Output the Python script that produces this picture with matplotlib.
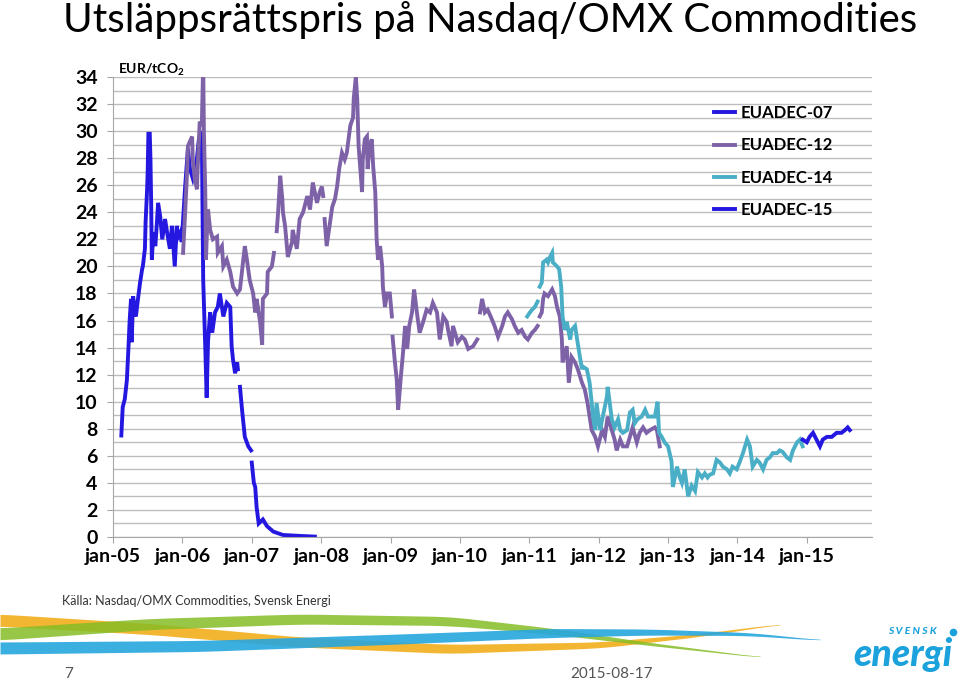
import numpy as np
import matplotlib.pyplot as plt
from matplotlib.lines import Line2D

# EUA futures on Nasdaq/OMX Commodities
# x values are decimal years, prices in EUR/tCO2, nan = gap in the series

euadec07_t = [2005.12, 2005.14, 2005.17, 2005.20, 2005.22, 2005.24, 2005.26, 2005.27, 2005.29,
              2005.32, 2005.33, 2005.36, 2005.39, 2005.42, 2005.43, 2005.46, 2005.47, 2005.49,
              2005.50, 2005.51, 2005.53, 2005.54, 2005.55, 2005.56, 2005.58, 2005.61, 2005.63,
              2005.65, 2005.68, 2005.71, 2005.75, 2005.78, 2005.82, 2005.85, 2005.89, 2005.92,
              2005.94, 2005.97, 2005.99, 2006.04, 2006.08, 2006.11, 2006.15, 2006.20, 2006.24,
              2006.28, 2006.30, 2006.33, 2006.35, 2006.37, 2006.40, 2006.43, 2006.47, 2006.51,
              2006.54, 2006.59, 2006.64, 2006.69, 2006.71, 2006.73, 2006.76, 2006.79, 2006.80,
              2006.81, 2006.83, 2006.86, 2006.90, 2006.95, 2006.99, 2006.995, 2007.00, 2007.03,
              2007.05, 2007.07, 2007.10, 2007.16, 2007.22, 2007.31, 2007.45, 2007.69, 2007.91]
euadec07_v = [7.5, 9.6, 10.2, 11.6, 13.7, 16.0, 17.6, 14.4, 17.8,
              16.5, 16.3, 17.6, 18.8, 19.8, 20.0, 21.3, 23.3, 25.5,
              27.0, 29.8, 29.8, 27.9, 24.7, 20.5, 22.5, 21.5, 23.0,
              24.7, 23.7, 22.0, 23.5, 22.5, 21.3, 23.0, 20.0, 23.0,
              22.2, 22.5, 21.8, 25.9, 28.7, 27.2, 26.5, 27.5, 29.5,
              30.0, 19.0, 14.0, 10.3, 14.5, 16.6, 15.1, 16.6, 17.0,
              18.0, 16.3, 17.3, 17.0, 14.1, 13.1, 12.1, 12.9, 12.4,
              np.nan, 11.1, 9.4, 7.4, 6.7, 6.4, np.nan, 5.5, 4.0,
              3.7, 2.2, 1.0, 1.3, 0.8, 0.4, 0.15, 0.08, 0.03]

euadec12_t = [2006.01, 2006.04, 2006.07, 2006.08, 2006.14, 2006.15, 2006.18, 2006.21, 2006.22,
              2006.25, 2006.28, 2006.30, 2006.31, 2006.33, 2006.34, 2006.35, 2006.37, 2006.40,
              2006.44, 2006.50, 2006.51, 2006.57, 2006.59, 2006.64, 2006.69, 2006.73, 2006.79,
              2006.83, 2006.90, 2006.93, 2006.97, 2007.02, 2007.05, 2007.07, 2007.12, 2007.15,
              2007.16, 2007.22, 2007.23, 2007.29, 2007.32, 2007.34, 2007.36, 2007.38, 2007.41,
              2007.44, 2007.45, 2007.48, 2007.52, 2007.58, 2007.59, 2007.65, 2007.69, 2007.74,
              2007.80, 2007.84, 2007.88, 2007.94, 2007.98, 2008.01, 2008.03, 2008.04, 2008.05,
              2008.08, 2008.13, 2008.16, 2008.20, 2008.23, 2008.26, 2008.30, 2008.34, 2008.37,
              2008.39, 2008.42, 2008.46, 2008.47, 2008.50, 2008.52, 2008.54, 2008.59, 2008.60,
              2008.63, 2008.66, 2008.67, 2008.70, 2008.73, 2008.75, 2008.78, 2008.80, 2008.82,
              2008.85, 2008.88, 2008.89, 2008.92, 2008.95, 2008.99, 2009.02, 2009.025, 2009.03,
              2009.06, 2009.09, 2009.11, 2009.15, 2009.18, 2009.21, 2009.24, 2009.27, 2009.31,
              2009.34, 2009.38, 2009.42, 2009.47, 2009.52, 2009.57, 2009.61, 2009.67, 2009.71,
              2009.76, 2009.81, 2009.83, 2009.88, 2009.90, 2009.97, 2010.03, 2010.07, 2010.12,
              2010.19, 2010.25, 2010.27, 2010.29, 2010.32, 2010.36, 2010.40, 2010.46, 2010.50,
              2010.55, 2010.61, 2010.65, 2010.69, 2010.75, 2010.79, 2010.84, 2010.89, 2010.94,
              2010.98, 2011.04, 2011.08, 2011.12, 2011.13, 2011.15, 2011.18, 2011.20, 2011.22,
              2011.27, 2011.33, 2011.37, 2011.40, 2011.44, 2011.47, 2011.48, 2011.54, 2011.57,
              2011.61, 2011.66, 2011.70, 2011.76, 2011.80, 2011.84, 2011.90, 2011.95, 2011.99,
              2012.05, 2012.09, 2012.13, 2012.19, 2012.23, 2012.26, 2012.31, 2012.35, 2012.41,
              2012.49, 2012.55, 2012.59, 2012.64, 2012.69, 2012.74, 2012.81, 2012.84, 2012.88]
euadec12_v = [21.0, 24.0, 27.2, 28.9, 29.6, 27.9, 26.4, 25.7, 27.2,
              30.7, 30.4, 35.0, 30.0, 25.5, 20.5, 22.0, 24.2, 22.7,
              22.0, 22.2, 21.0, 21.5, 20.0, 20.5, 19.6, 18.5, 18.0,
              18.3, 21.5, 20.5, 19.0, 18.0, 16.6, 17.6, 15.9, 14.2,
              17.6, 18.0, 19.6, 20.0, 21.0, np.nan, 22.6, 24.0, 26.7,
              25.0, 24.0, 23.0, 20.7, 21.8, 22.7, 21.3, 23.5, 24.0,
              25.2, 24.2, 26.2, 24.7, 25.5, 25.9, 25.2, np.nan, 23.5,
              21.5, 23.3, 24.4, 25.0, 25.9, 27.2, 28.4, 27.9, 28.4,
              29.2, 30.4, 31.0, 32.4, 34.0, 32.4, 28.9, 25.5, 27.9,
              29.4, 29.6, 27.2, 28.9, 29.4, 27.4, 25.5, 22.0, 20.5,
              21.5, 20.0, 18.5, 17.0, 18.0, 18.0, 16.3, np.nan, 14.8,
              13.1, 11.6, 9.4, 11.9, 13.6, 15.6, 13.9, 15.6, 16.6,
              18.3, 16.6, 15.1, 15.9, 16.8, 16.6, 17.3, 16.6, 14.6,
              16.3, 15.9, 15.3, 14.1, 15.6, 14.4, 14.8, 14.6, 13.9,
              14.1, 14.6, np.nan, 16.6, 17.6, 16.6, 16.8, 16.1, 15.6,
              14.8, 15.6, 16.3, 16.6, 16.1, 15.6, 15.1, 15.3, 14.8,
              14.6, 15.1, 15.3, 15.6, np.nan, 16.3, 16.6, 17.6, 18.0,
              17.8, 18.3, 17.8, 17.0, 16.3, 14.6, 12.9, 14.1, 11.4,
              13.3, 12.9, 12.4, 11.4, 10.9, 9.9, 7.9, 7.4, 6.7,
              7.9, 7.4, 8.9, 7.9, 7.2, 6.4, 7.2, 6.7, 6.7,
              8.1, 7.0, 7.7, 8.1, 7.7, 7.9, 8.1, 7.9, 6.7]

euadec14_t = [2010.97, 2011.01, 2011.04, 2011.08, 2011.12, 2011.13, 2011.15, 2011.18, 2011.20,
              2011.25, 2011.27, 2011.30, 2011.33, 2011.34, 2011.40, 2011.43, 2011.46, 2011.48,
              2011.51, 2011.54, 2011.59, 2011.61, 2011.66, 2011.69, 2011.73, 2011.76, 2011.77,
              2011.83, 2011.87, 2011.90, 2011.92, 2011.95, 2011.97, 2012.02, 2012.06, 2012.12,
              2012.13, 2012.16, 2012.19, 2012.23, 2012.28, 2012.31, 2012.35, 2012.41, 2012.45,
              2012.49, 2012.52, 2012.56, 2012.62, 2012.67, 2012.71, 2012.77, 2012.81, 2012.85,
              2012.87, 2012.91, 2012.95, 2013.00, 2013.05, 2013.07, 2013.13, 2013.17, 2013.20,
              2013.24, 2013.29, 2013.34, 2013.39, 2013.43, 2013.49, 2013.53, 2013.57, 2013.60,
              2013.65, 2013.70, 2013.75, 2013.79, 2013.85, 2013.89, 2013.93, 2013.99, 2014.03,
              2014.08, 2014.14, 2014.18, 2014.22, 2014.28, 2014.32, 2014.37, 2014.42, 2014.47,
              2014.51, 2014.57, 2014.61, 2014.65, 2014.71, 2014.76, 2014.80, 2014.86, 2014.90,
              2014.94]
euadec14_v = [16.3, 16.6, 16.8, 17.0, 17.4, np.nan, 18.5, 18.8, 20.3,
              20.5, 20.3, 20.7, 21.0, 20.3, 20.0, 19.8, 18.5, 16.3,
              15.3, 15.9, 14.6, 15.3, 15.6, 14.6, 13.3, 12.4, 12.6,
              12.4, 11.4, 9.9, 8.9, 7.9, 9.9, 7.9, 8.9, 10.4,
              11.1, 9.9, 8.7, 8.1, 8.7, 7.9, 7.7, 7.9, 9.2,
              9.4, 8.4, 8.7, 8.9, 9.4, 8.9, 8.9, 8.9, 10.0,
              7.7, 7.4, 7.0, 6.7, 5.6, 3.7, 5.2, 4.4, 4.0,
              5.0, 3.0, 3.8, 3.4, 4.8, 4.4, 4.7, 4.4, 4.6,
              4.7, 5.7, 5.5, 5.2, 5.0, 4.7, 5.2, 5.0, 5.5,
              6.2, 7.2, 6.7, 5.2, 5.7, 5.5, 5.0, 5.7, 5.9,
              6.2, 6.2, 6.4, 6.3, 5.9, 5.7, 6.4, 7.0, 7.2,
              6.7]

euadec15_t = [2014.94, 2015.00, 2015.04, 2015.09, 2015.14, 2015.19, 2015.23, 2015.29, 2015.36,
              2015.43, 2015.50, 2015.55, 2015.59, 2015.62]
euadec15_v = [7.2, 7.0, 7.4, 7.7, 7.2, 6.7, 7.2, 7.4, 7.4,
              7.7, 7.7, 7.9, 8.1, 7.9]

series_names = ['EUADEC-07', 'EUADEC-12', 'EUADEC-14', 'EUADEC-15']
series_colors = ['#2417E0', '#7E62A8', '#4AAFC6', '#2417E0']

year_ticks = list(range(2005, 2016))
year_labels = ['jan-%02d' % (y % 100) for y in year_ticks]

plt.rcParams['font.family'] = ['Lato', 'DejaVu Sans']
plt.rcParams['mathtext.fontset'] = 'custom'
plt.rcParams['mathtext.rm'] = 'Lato:bold'
plt.rcParams['mathtext.bf'] = 'Lato:bold'

W, H = 959, 682
fig = plt.figure(figsize=(W / 100, H / 100), dpi=100)

# slide decoration layer in pixel coordinates
deco = fig.add_axes([0, 0, 1, 1])
deco.set_xlim(0, W)
deco.set_ylim(H, 0)
deco.axis('off')


def ribbon(xs, ys, ws, color, alpha):
    xx = np.linspace(xs[0], xs[-1], 400)
    yy = np.interp(xx, xs, ys)
    ww = np.interp(xx, xs, ws)
    k = np.ones(25) / 25
    yy = np.convolve(np.pad(yy, 12, mode='edge'), k, mode='valid')
    deco.fill_between(xx, yy - ww / 2, yy + ww / 2, color=color, alpha=alpha, lw=0)


ribbon([0, 150, 300, 450, 600, 700, 780], [620, 629, 642, 649, 645, 635, 624],
       [12, 11, 10, 9, 6, 3, 0.5], '#F2AE1C', 0.9)
ribbon([0, 150, 300, 450, 550, 650, 760], [634, 624, 619, 621, 631, 644, 657],
       [12, 11, 10, 9, 6, 3, 0.5], '#86BC25', 0.85)
ribbon([0, 200, 400, 550, 650, 750, 820], [648, 646, 639, 633, 632, 634, 640],
       [12, 11, 10, 9, 6, 3, 0.5], '#27A6DE', 0.9)

deco.text(490, 20, 'Utsläppsrättspris på Nasdaq/OMX Commodities', fontsize=29,
          ha='center', va='center', color='black')
deco.text(62, 601, 'Källa: Nasdaq/OMX Commodities, Svensk Energi', fontsize=9,
          ha='left', va='center', color='#333333')
deco.text(64, 674, '7', fontsize=11, ha='left', va='center', color='#555555')
deco.text(612, 674, '2015-08-17', fontsize=11, ha='center', va='center', color='#555555')
deco.text(912, 632, 'S V E N S K', fontsize=7.5, fontweight='black', style='italic',
          ha='center', va='center', color='#1BA1DB')
deco.plot([953], [632], 'o', ms=4.5, color='#1BA1DB')
deco.text(903, 654, 'energi', fontsize=27, fontweight='black', style='italic',
          ha='center', va='center', color='#1BA1DB')
deco.text(118, 70, r'EUR/tCO$_{2}$', fontsize=10, fontweight='bold', ha='left', va='center')

# chart
ax = fig.add_axes([113 / W, 1 - 537 / H, (872 - 113) / W, (537 - 77) / H])
ax.patch.set_alpha(0)

all_t = [euadec07_t, euadec12_t, euadec14_t, euadec15_t]
all_v = [euadec07_v, euadec12_v, euadec14_v, euadec15_v]
for t, v, c in zip(all_t, all_v, series_colors):
    ax.plot(t, v, color=c, lw=2.8, solid_joinstyle='miter')

ax.set_xlim(2005, 2015.94)
ax.set_ylim(0, 34)
ax.set_yticks(range(0, 35, 2))
ax.set_yticks(range(1, 34, 2), minor=True)
ax.set_xticks(year_ticks)
ax.set_xticklabels(year_labels)
ax.grid(True, axis='y', which='both', color='#BDBDBD', lw=1)
ax.set_axisbelow(True)
for s in ['top', 'right']:
    ax.spines[s].set_visible(False)
for s in ['left', 'bottom']:
    ax.spines[s].set_color('#A6A6A6')
ax.tick_params(axis='both', which='major', length=4, color='#A6A6A6', labelsize=14)
ax.tick_params(axis='y', which='minor', length=0)
ax.tick_params(axis='x', pad=4)
ax.tick_params(axis='y', pad=7)
for lab in ax.get_xticklabels() + ax.get_yticklabels():
    lab.set_fontweight('bold')

handles = [Line2D([], [], color=c, lw=2.8) for c in series_colors]
ax.legend(handles, series_names, loc='upper left', bbox_to_anchor=(714 / W, 1 - 105 / H),
          bbox_transform=fig.transFigure, frameon=False, handlelength=1.25, handletextpad=0.35,
          labelspacing=0.98, borderpad=0, borderaxespad=0,
          prop={'weight': 'bold', 'size': 12})

fig.savefig('out.png', dpi=100)
